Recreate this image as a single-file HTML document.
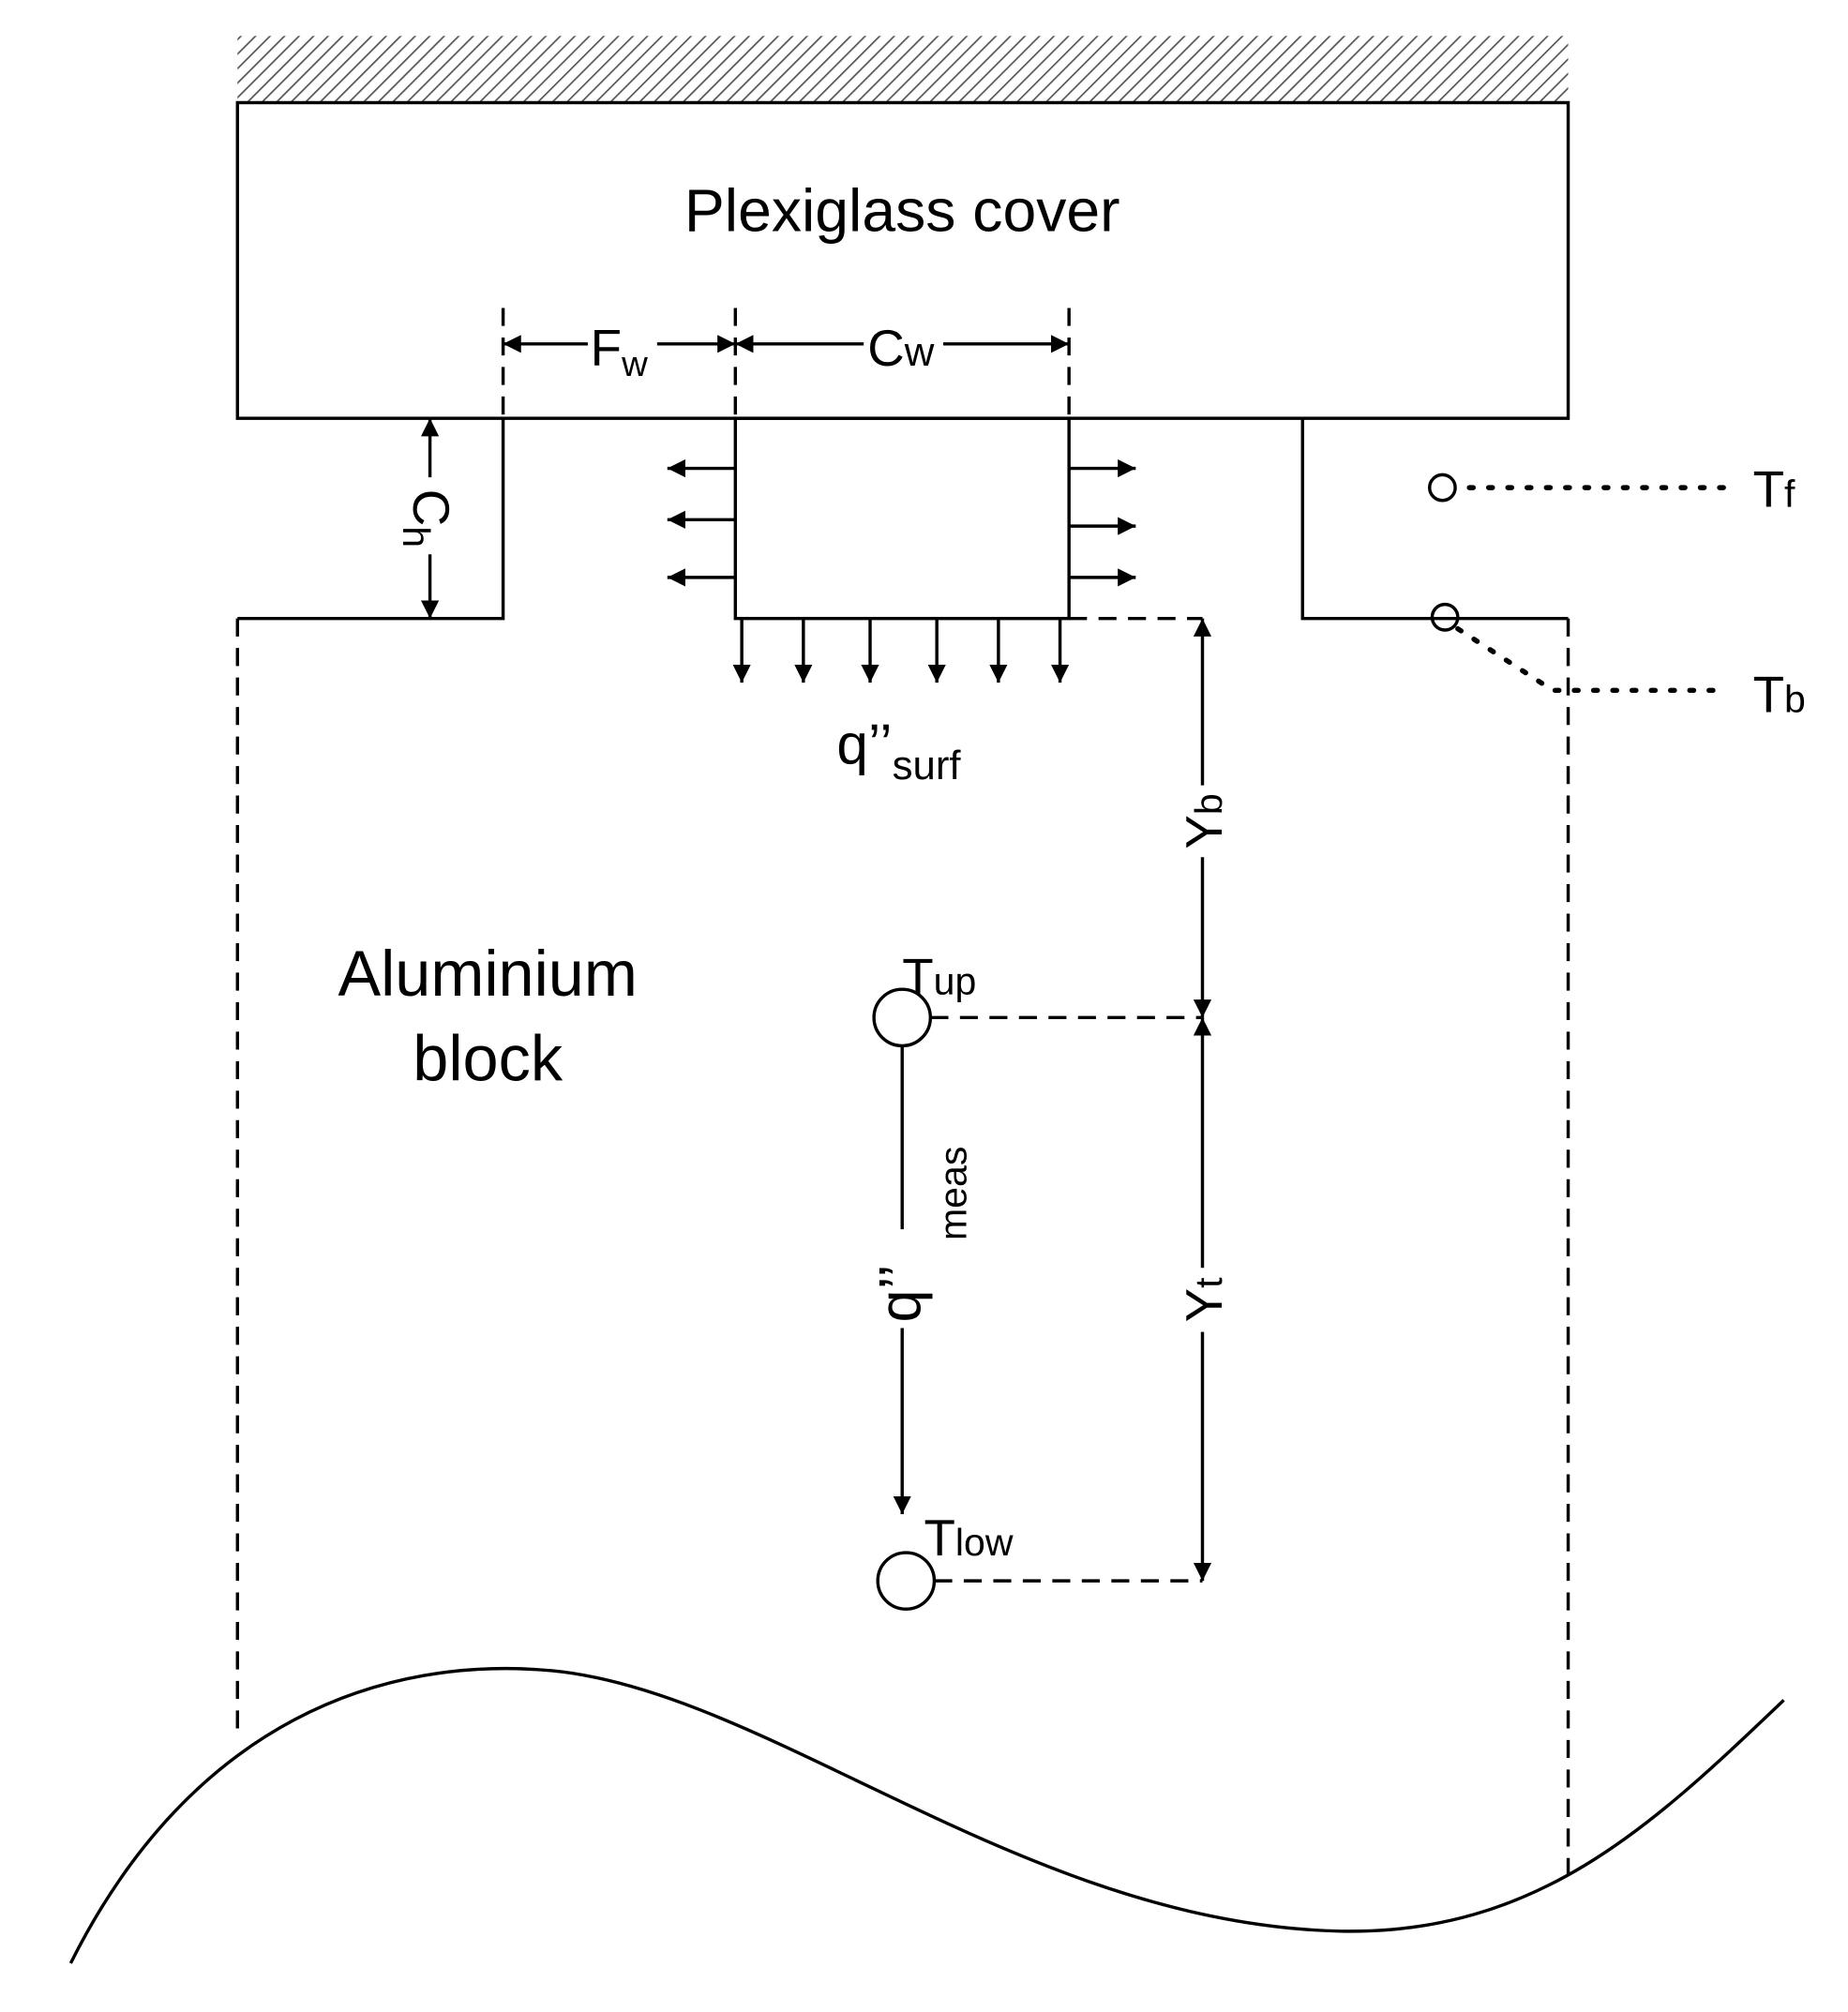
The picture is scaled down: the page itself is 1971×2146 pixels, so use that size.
<!DOCTYPE html>
<html><head><meta charset="utf-8"><style>
html,body{margin:0;padding:0;background:#fff;}
svg{display:block;}
text{font-family:"Liberation Sans",sans-serif;fill:#000;}
</style></head><body>
<svg width="1971" height="2146" viewBox="0 0 1440 1568" xmlns="http://www.w3.org/2000/svg">
<defs>
<pattern id="h" width="8" height="8" patternUnits="userSpaceOnUse" patternTransform="rotate(45)">
<rect width="8" height="8" fill="#fff"/><line x1="0" y1="0" x2="0" y2="8" stroke="#555" stroke-width="2.5"/></pattern>
<marker id="a" viewBox="0 0 10 10" refX="10" refY="5" markerWidth="14" markerHeight="14" markerUnits="userSpaceOnUse" orient="auto-start-reverse"><path d="M0,0 L10,5 L0,10z" fill="#000"/></marker>
</defs>
<g stroke="#000" stroke-width="2.5" fill="none">
<rect x="185" y="28" width="1037" height="52" fill="url(#h)" stroke="none"/>
<rect x="185" y="80" width="1037" height="246" fill="#fff"/>
<polyline points="185,482 392,482 392,326"/>
<polyline points="1015,326 1015,482 1222,482"/>
<rect x="573" y="326" width="260" height="156"/>
<g stroke-dasharray="14,9">
<line x1="185" y1="482" x2="185" y2="1350"/>
<line x1="1222" y1="482" x2="1222" y2="1465"/>
<line x1="392" y1="240" x2="392" y2="326"/>
<line x1="573" y1="240" x2="573" y2="326"/>
<line x1="833" y1="240" x2="833" y2="326"/>
<line x1="833" y1="482" x2="937" y2="482"/>
<line x1="725" y1="793" x2="937" y2="793"/>
<line x1="728" y1="1232" x2="937" y2="1232"/>
</g>
<line x1="392" y1="268" x2="458" y2="268" marker-start="url(#a)"/>
<line x1="512" y1="268" x2="573" y2="268" marker-end="url(#a)"/>
<line x1="573" y1="268" x2="673" y2="268" marker-start="url(#a)"/>
<line x1="735" y1="268" x2="833" y2="268" marker-end="url(#a)"/>
<line x1="335" y1="326" x2="335" y2="372" marker-start="url(#a)"/>
<line x1="335" y1="432" x2="335" y2="482" marker-end="url(#a)"/>
<g marker-end="url(#a)">
<line x1="573" y1="365" x2="520" y2="365"/><line x1="573" y1="405" x2="520" y2="405"/><line x1="573" y1="450" x2="520" y2="450"/>
<line x1="833" y1="365" x2="885" y2="365"/><line x1="833" y1="410" x2="885" y2="410"/><line x1="833" y1="450" x2="885" y2="450"/>
<line x1="578" y1="482" x2="578" y2="532"/><line x1="626" y1="482" x2="626" y2="532"/><line x1="678" y1="482" x2="678" y2="532"/>
<line x1="730" y1="482" x2="730" y2="532"/><line x1="778" y1="482" x2="778" y2="532"/><line x1="826" y1="482" x2="826" y2="532"/>
</g>
<line x1="937" y1="482" x2="937" y2="612" marker-start="url(#a)"/>
<line x1="937" y1="668" x2="937" y2="793" marker-end="url(#a)"/>
<line x1="937" y1="793" x2="937" y2="988" marker-start="url(#a)"/>
<line x1="937" y1="1038" x2="937" y2="1232" marker-end="url(#a)"/>
<circle cx="703" cy="793" r="22"/>
<circle cx="706" cy="1232" r="22"/>
<line x1="703" y1="815" x2="703" y2="958"/>
<line x1="703" y1="1035" x2="703" y2="1180" marker-end="url(#a)"/>
<circle cx="1124" cy="380" r="10"/>
<circle cx="1126" cy="481" r="10"/>
<g stroke-dasharray="3,12" stroke-width="4" stroke-linecap="round">
<line x1="1145" y1="380" x2="1345" y2="380"/>
<polyline points="1136,490 1210,538 1345,538"/>
</g>
<path d="M55,1530 C150,1340 300,1290 430,1302 C600,1318 800,1500 1045,1505 C1200,1508 1290,1420 1390,1325"/>
</g>
<text x="703" y="180" font-size="47" text-anchor="middle">Plexiglass cover</text>
<text x="460" y="285" font-size="40">F<tspan font-size="28" dy="8">w</tspan></text>
<text x="676" y="285" font-size="40">C<tspan font-size="32">w</tspan></text>
<text transform="translate(322,404) rotate(90)" font-size="40" text-anchor="middle">C<tspan font-size="30" dy="8">h</tspan></text>
<text x="652" y="595" font-size="44">q’’<tspan font-size="32" dy="12">surf</tspan></text>
<text transform="translate(952,640) rotate(-90)" font-size="40" text-anchor="middle">Y<tspan font-size="30">b</tspan></text>
<text transform="translate(952,1013) rotate(-90)" font-size="40" text-anchor="middle">Y<tspan font-size="30">t</tspan></text>
<text transform="translate(717,1008) rotate(-90)" font-size="46" text-anchor="middle">q’’</text>
<text transform="translate(753,930) rotate(-90)" font-size="30" text-anchor="middle">meas</text>
<text x="703" y="775" font-size="40">T<tspan font-size="30">up</tspan></text>
<text x="720" y="1212" font-size="40">T<tspan font-size="30">low</tspan></text>
<text x="1366" y="395" font-size="40">T<tspan font-size="30">f</tspan></text>
<text x="1366" y="555" font-size="40">T<tspan font-size="30">b</tspan></text>
<text x="380" y="776" font-size="50" text-anchor="middle">Aluminium</text>
<text x="380" y="842" font-size="50" text-anchor="middle">block</text>
</svg>
</body></html>
